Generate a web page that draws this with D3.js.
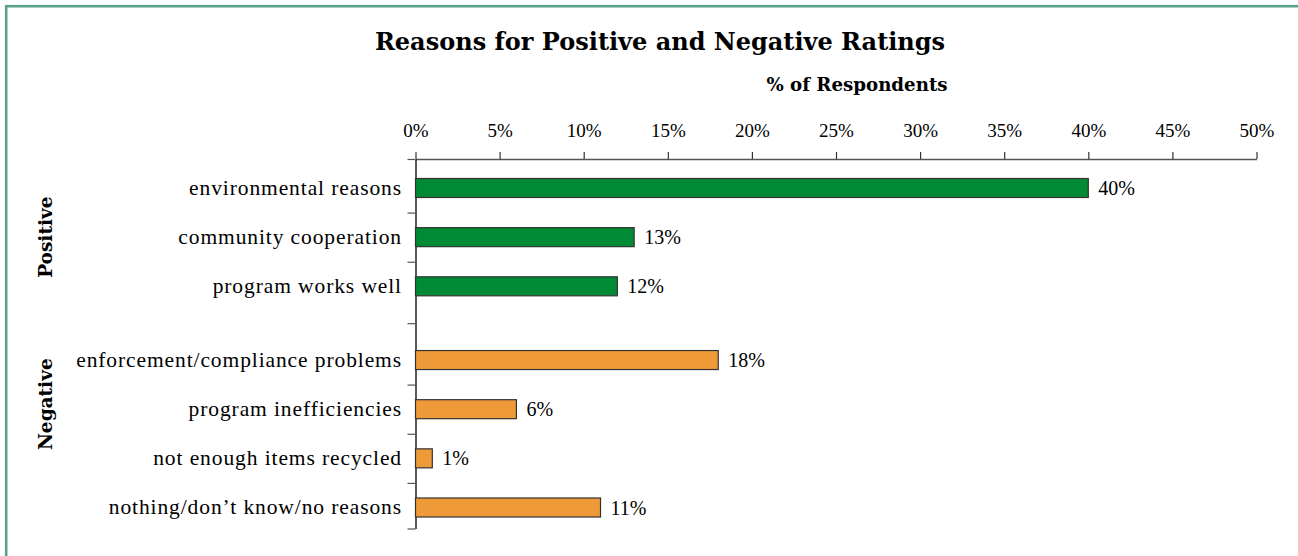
<!DOCTYPE html>
<html>
<head>
<meta charset="utf-8">
<script src="https://cdn.jsdelivr.net/npm/d3@7"></script>
<style>
  html, body { margin: 0; padding: 0; background: #fff; }
  svg { display: block; }
</style>
</head>
<body>
<svg id="chart" width="1298" height="556"></svg>
<script>
// Survey reasons, grouped by rating type
const groups = ["Positive", "Negative"];
const positiveReasons = ["environmental reasons", "community cooperation", "program works well"];
const positiveValues = [40, 13, 12];
const negativeReasons = ["enforcement/compliance problems", "program inefficiencies", "not enough items recycled", "nothing/don\u2019t know/no reasons"];
const negativeValues = [18, 6, 1, 11];
const xTicks = [0, 5, 10, 15, 20, 25, 30, 35, 40, 45, 50];

const title = "Reasons for Positive and Negative Ratings";
const axisTitle = "% of Respondents";

const serif = "'Liberation Serif', 'Times New Roman', serif";
const boldSerif = "'DejaVu Serif', serif";
const colors = { Positive: "#008a36", Negative: "#ee9a38" };

// Rows: each group's items in order, with half a row of space between groups
const rows = [];
[[positiveReasons, positiveValues], [negativeReasons, negativeValues]].forEach(([names, vals], g) => {
  names.forEach((name, i) => {
    rows.push({ group: groups[g], name, value: vals[i], slot: rows.length + g * 0.5 });
  });
});

const svg = d3.select("#chart");

// Frame
svg.append("rect")
  .attr("x", 6.2).attr("y", 6.2)
  .attr("width", 1310).attr("height", 570)
  .attr("fill", "none")
  .attr("stroke", "#5c9f8d")
  .attr("stroke-width", 2.6);

const x = d3.scaleLinear().domain([0, 50]).range([415.5, 1256.5]);
const lastSlot = d3.max(rows, d => d.slot);
const y = d3.scaleLinear().domain([0, lastSlot]).range([188, 507.5]);

const barH = 19;

// Title
svg.append("text")
  .attr("x", 660).attr("y", 50)
  .attr("text-anchor", "middle")
  .attr("font-family", boldSerif)
  .attr("font-weight", "bold")
  .attr("font-size", 24)
  .attr("fill", "#000")
  .text(title);

svg.append("text")
  .attr("x", 857).attr("y", 91)
  .attr("text-anchor", "middle")
  .attr("font-family", boldSerif)
  .attr("font-weight", "bold")
  .attr("font-size", 18.2)
  .attr("fill", "#000")
  .text(axisTitle);

// Top value axis
const xAxis = d3.axisTop(x)
  .tickValues(xTicks)
  .tickFormat(d => d + "%")
  .tickSizeInner(7)
  .tickSizeOuter(0)
  .tickPadding(15);

const gx = svg.append("g")
  .attr("transform", "translate(0,159)")
  .call(xAxis);
gx.select(".domain").attr("stroke", "#555").attr("stroke-width", 1.3);
gx.selectAll(".tick line").attr("stroke", "#333").attr("stroke-width", 1.2);
gx.selectAll(".tick text")
  .attr("font-family", serif)
  .attr("font-size", 19)
  .attr("fill", "#000");

// Left category axis: separators between rows and at both ends
const sepSlots = [];
rows.forEach((r, i) => {
  if (i < rows.length - 1) sepSlots.push((r.slot + rows[i + 1].slot) / 2);
});
const yTop = y.invert(159), yBottom = y.invert(528.5);
const yAxisScale = y.copy().domain([yTop, yBottom]).range([159, 528.5]);
const yAxis = d3.axisLeft(yAxisScale)
  .tickValues([yTop, ...sepSlots, yBottom])
  .tickFormat("")
  .tickSizeInner(8)
  .tickSizeOuter(0);

const gy = svg.append("g")
  .attr("transform", "translate(415.5,0)")
  .call(yAxis);
gy.select(".domain").attr("stroke", "#000").attr("stroke-width", 1.3);
gy.selectAll(".tick line").attr("stroke", "#555").attr("stroke-width", 1.2);

// Bars
svg.append("g").selectAll("rect")
  .data(rows)
  .join("rect")
  .attr("x", x(0))
  .attr("y", d => y(d.slot) - barH / 2)
  .attr("width", d => x(d.value) - x(0))
  .attr("height", barH)
  .attr("fill", d => colors[d.group])
  .attr("stroke", "#333")
  .attr("stroke-width", 1.2);

// Value labels
svg.append("g").selectAll("text")
  .data(rows)
  .join("text")
  .attr("x", d => x(d.value) + 10)
  .attr("y", d => y(d.slot))
  .attr("dy", "0.35em")
  .attr("font-family", serif)
  .attr("font-size", 20)
  .attr("fill", "#000")
  .text(d => d.value + "%");

// Category labels
svg.append("g").selectAll("text")
  .data(rows)
  .join("text")
  .attr("x", 402)
  .attr("y", d => y(d.slot))
  .attr("dy", "0.32em")
  .attr("text-anchor", "end")
  .attr("font-family", serif)
  .attr("font-size", 21.5)
  .attr("letter-spacing", 0.9)
  .attr("fill", "#000")
  .text(d => d.name);

// Group labels, rotated; centred between a group's first row and its
// second-to-last row when the group is long, otherwise across all rows
groups.forEach(g => {
  const gr = rows.filter(r => r.group === g);
  const endRow = gr.length > 3 ? gr[gr.length - 2] : gr[gr.length - 1];
  const cy = (y(gr[0].slot) + y(endRow.slot)) / 2 - (gr.length > 3 ? 5 : 0);
  svg.append("text")
    .attr("transform", `translate(52,${cy}) rotate(-90)`)
    .attr("text-anchor", "middle")
    .attr("font-family", boldSerif)
    .attr("font-weight", "bold")
    .attr("font-size", 18.5)
    .attr("fill", "#000")
    .text(g);
});
</script>
</body>
</html>
